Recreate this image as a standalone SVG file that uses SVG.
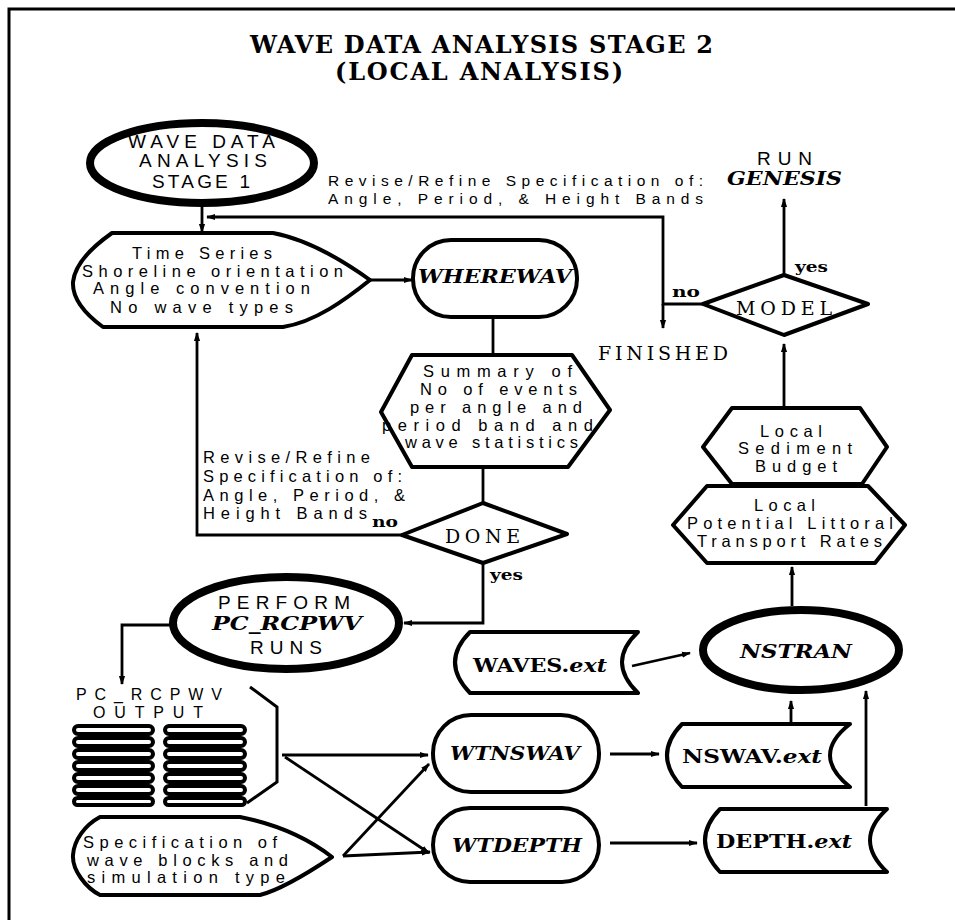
<svg xmlns="http://www.w3.org/2000/svg" width="955" height="920" viewBox="0 0 955 920">
<defs>
<marker id="ah" viewBox="0 0 10 10" refX="9" refY="5" markerWidth="9" markerHeight="9" markerUnits="userSpaceOnUse" orient="auto">
<path d="M0,1.5 L10,5 L0,8.5 Z" fill="#000"/>
</marker>
<style>
.bg{fill:#fff}
.frame{fill:none;stroke:#000;stroke-width:3}
.sh{fill:#fff;stroke:#000;stroke-width:4;stroke-linejoin:round}
.thick{fill:#fff;stroke:#000;stroke-width:8}
.cn{fill:none;stroke:#000;stroke-width:2.8}
.ar{marker-end:url(#ah)}
.title{font-family:"DejaVu Serif","Liberation Serif",serif;font-weight:bold;font-size:24px;fill:#000}
.body{font-family:"Liberation Sans","DejaVu Sans",sans-serif;font-size:16.5px;fill:#000}
.bodys{font-family:"Liberation Sans","DejaVu Sans",sans-serif;font-size:15.5px;fill:#000}
.caps{font-family:"Liberation Sans","DejaVu Sans",sans-serif;font-size:19px;fill:#000}
.capss{font-family:"Liberation Sans","DejaVu Sans",sans-serif;font-size:16px;fill:#000}
.capsr{font-family:"DejaVu Serif","Liberation Serif",serif;font-size:19px;fill:#000}
.prog{font-family:"DejaVu Serif","Liberation Serif",serif;font-weight:bold;font-style:italic;font-size:18px;fill:#000}
.file{font-family:"DejaVu Serif","Liberation Serif",serif;font-weight:bold;font-size:18px;fill:#000}
.yn{font-family:"DejaVu Serif","Liberation Serif",serif;font-weight:bold;font-size:14px;fill:#000}
</style>
</defs>
<rect class="bg" x="0" y="0" width="955" height="920"/>
<path class="frame" d="M9,920 V9 H955"/>

<g id="title">
<text class="title" x="250" y="53" textLength="463" lengthAdjust="spacing">WAVE DATA ANALYSIS STAGE 2</text>
<text class="title" x="335" y="80" textLength="288" lengthAdjust="spacing">(LOCAL ANALYSIS)</text>
</g>

<g id="connectors">
<path class="cn ar" d="M202,207 V232"/>
<path class="cn ar" d="M703,304 H663 V217 H207"/>
<path class="cn ar" d="M663,304 V328"/>
<path class="cn ar" d="M370,280 H412"/>
<path class="cn" d="M493,317 V355"/>
<path class="cn" d="M483,467 V503"/>
<path class="cn ar" d="M402,535 H197 V333"/>
<path class="cn ar" d="M483,563 V623 H404"/>
<path class="cn ar" d="M170,625 H122 V684"/>
<path class="cn ar" d="M282,755 H428"/>
<path class="cn ar" d="M285,757 L429,853"/>
<path class="cn ar" d="M343,856 L429,764"/>
<path class="cn ar" d="M343,856 L430,852"/>
<path class="cn ar" d="M610,754 H659"/>
<path class="cn ar" d="M610,843 H697"/>
<path class="cn ar" d="M632,666 L690,653"/>
<path class="cn ar" d="M791,724 V701"/>
<path class="cn ar" d="M866,806 V691"/>
<path class="cn ar" d="M792,606 V567"/>
<path class="cn ar" d="M784,408 V344"/>
<path class="cn ar" d="M784,275 V199"/>
</g>

<g id="labels">
<text class="bodys" x="328" y="186" textLength="375" lengthAdjust="spacing">Revise/Refine Specification of:</text>
<text class="bodys" x="328" y="204" textLength="375" lengthAdjust="spacing">Angle, Period, &amp; Height Bands</text>
<text class="body" x="203" y="463" textLength="167" lengthAdjust="spacing">Revise/Refine</text>
<text class="body" x="203" y="482" textLength="199" lengthAdjust="spacing">Specification of:</text>
<text class="body" x="203" y="501" textLength="202" lengthAdjust="spacing">Angle, Period, &amp;</text>
<text class="body" x="203" y="519" textLength="164" lengthAdjust="spacing">Height Bands</text>
<text class="yn" x="372" y="527" textLength="26" lengthAdjust="spacingAndGlyphs">no</text>
<text class="yn" x="490" y="580" textLength="33" lengthAdjust="spacingAndGlyphs">yes</text>
<text class="yn" x="672" y="297" textLength="28" lengthAdjust="spacingAndGlyphs">no</text>
<text class="yn" x="795" y="272" textLength="33" lengthAdjust="spacingAndGlyphs">yes</text>
</g>

<g id="stage1">
<ellipse class="thick" cx="202" cy="163" rx="112" ry="40"/>
<text class="caps" x="128" y="148" textLength="147" lengthAdjust="spacing">WAVE DATA</text>
<text class="caps" x="139" y="167" textLength="128" lengthAdjust="spacing">ANALYSIS</text>
<text class="caps" x="152" y="188" textLength="98" lengthAdjust="spacing">STAGE 1</text>
</g>

<g id="timeseries">
<path class="sh" d="M112,233 H273 C310,240 345,262 370,280 C345,300 315,322 283,327 H103 C88,316 72,300 73,282 C75,262 95,245 112,233 Z"/>
<text class="body" x="132" y="259" textLength="140" lengthAdjust="spacing">Time Series</text>
<text class="body" x="82" y="277" textLength="261" lengthAdjust="spacing">Shoreline orientation</text>
<text class="body" x="93" y="294" textLength="217" lengthAdjust="spacing">Angle convention</text>
<text class="body" x="110" y="313" textLength="183" lengthAdjust="spacing">No  wave types</text>
</g>

<g id="wherewav">
<rect class="sh" x="413" y="240" width="164" height="77" rx="38"/>
<text class="prog" x="418" y="283" textLength="154" lengthAdjust="spacingAndGlyphs">WHEREWAV</text>
</g>

<g id="summary">
<polygon class="sh" points="412,355 572,355 610,410 568,467 412,467 381,412"/>
<text class="body" x="423" y="377" textLength="149" lengthAdjust="spacing">Summary of</text>
<text class="body" x="420" y="395" textLength="157" lengthAdjust="spacing">No  of events</text>
<text class="body" x="410" y="413" textLength="172" lengthAdjust="spacing">per angle and</text>
<text class="body" x="382" y="431" textLength="211" lengthAdjust="spacing">period band and</text>
<text class="body" x="405" y="448" textLength="173" lengthAdjust="spacing">wave statistics</text>
</g>

<g id="done">
<polygon class="sh" points="483,503 567,534 483,563 402,535"/>
<text class="capsr" x="445" y="543" textLength="75" lengthAdjust="spacing">DONE</text>
</g>

<g id="perform">
<ellipse class="thick" cx="286" cy="623" rx="113" ry="46"/>
<text class="caps" x="218" y="609" textLength="132" lengthAdjust="spacing">PERFORM</text>
<text class="prog" x="212" y="630" textLength="150" lengthAdjust="spacingAndGlyphs">PC_RCPWV</text>
<text class="caps" x="250" y="654" textLength="72" lengthAdjust="spacing">RUNS</text>
</g>

<g id="output">
<text class="capss" x="76" y="700" textLength="146" lengthAdjust="spacing">PC_RCPWV</text>
<text class="capss" x="93" y="718" textLength="110" lengthAdjust="spacing">OUTPUT</text>
<g fill="none" stroke="#000" stroke-width="4">
<rect x="74" y="726" width="79" height="8" rx="4"/>
<rect x="74" y="738" width="79" height="8" rx="4"/>
<rect x="74" y="750" width="79" height="8" rx="4"/>
<rect x="74" y="762" width="79" height="8" rx="4"/>
<rect x="74" y="774" width="79" height="8" rx="4"/>
<rect x="74" y="786" width="79" height="8" rx="4"/>
<rect x="74" y="798" width="79" height="7" rx="3.5"/>
<rect x="165" y="726" width="80" height="8" rx="4"/>
<rect x="165" y="738" width="80" height="8" rx="4"/>
<rect x="165" y="750" width="80" height="8" rx="4"/>
<rect x="165" y="762" width="80" height="8" rx="4"/>
<rect x="165" y="774" width="80" height="8" rx="4"/>
<rect x="165" y="786" width="80" height="8" rx="4"/>
<rect x="165" y="798" width="80" height="7" rx="3.5"/>
</g>
<path fill="none" stroke="#000" stroke-width="3" d="M250,687 L277,707 V782 L247,803"/>
</g>

<g id="spec">
<path class="sh" d="M100,817 H240 C280,825 310,840 332,857 C305,875 280,890 260,895 H100 C86,888 72,870 73,855 C74,840 85,825 100,817 Z"/>
<text class="body" x="83" y="848" textLength="194" lengthAdjust="spacing">Specification of</text>
<text class="body" x="87" y="866" textLength="201" lengthAdjust="spacing">wave blocks and</text>
<text class="body" x="87" y="883" textLength="198" lengthAdjust="spacing">simulation type</text>
</g>

<g id="wtnswav">
<rect class="sh" x="433" y="715" width="166" height="77" rx="38"/>
<text class="prog" x="450" y="760" textLength="130" lengthAdjust="spacingAndGlyphs">WTNSWAV</text>
</g>

<g id="wtdepth">
<rect class="sh" x="433" y="808" width="166" height="74" rx="37"/>
<text class="prog" x="452" y="852" textLength="130" lengthAdjust="spacingAndGlyphs">WTDEPTH</text>
</g>

<g id="waves">
<path class="sh" d="M470,632 H638 Q606,662 638,693 H470 Q440,662 470,632 Z"/>
<text class="file" x="473" y="672" textLength="134" lengthAdjust="spacingAndGlyphs">WAVES.<tspan font-style="italic">ext</tspan></text>
</g>

<g id="nswav">
<path class="sh" d="M682,724 H850 Q810,755 850,787 H682 Q652,755 682,724 Z"/>
<text class="file" x="682" y="763" textLength="140" lengthAdjust="spacingAndGlyphs">NSWAV.<tspan font-style="italic">ext</tspan></text>
</g>

<g id="depth">
<path class="sh" d="M720,809 H887 Q853,840 887,872 H720 Q690,840 720,809 Z"/>
<text class="file" x="716" y="848" textLength="136" lengthAdjust="spacingAndGlyphs">DEPTH.<tspan font-style="italic">ext</tspan></text>
</g>

<g id="nstran">
<ellipse class="thick" cx="801" cy="650" rx="98" ry="40" stroke-width="7"/>
<text class="prog" x="740" y="658" textLength="112" lengthAdjust="spacingAndGlyphs">NSTRAN</text>
</g>

<g id="littoral">
<polygon class="sh" points="707,486 868,486 905,525 875,563 707,563 673,525"/>
<text class="body" x="754" y="511" textLength="61" lengthAdjust="spacing">Local</text>
<text class="body" x="687" y="529" textLength="206" lengthAdjust="spacing">Potential Littoral</text>
<text class="body" x="697" y="547" textLength="185" lengthAdjust="spacing">Transport Rates</text>
</g>

<g id="sediment">
<polygon class="sh" points="732,408 860,408 887,447 862,484 732,484 703,447"/>
<text class="body" x="760" y="437" textLength="62" lengthAdjust="spacing">Local</text>
<text class="body" x="738" y="454" textLength="114" lengthAdjust="spacing">Sediment</text>
<text class="body" x="755" y="472" textLength="82" lengthAdjust="spacing">Budget</text>
</g>

<g id="model">
<polygon class="sh" points="784,275 868,304 784,335 703,304"/>
<text class="capsr" x="736" y="315" textLength="96" lengthAdjust="spacing">MODEL</text>
</g>

<g id="finished">
<text class="capsr" x="598" y="360" textLength="130" lengthAdjust="spacing">FINISHED</text>
</g>

<g id="genesis">
<text class="caps" x="757" y="165" textLength="55" lengthAdjust="spacing">RUN</text>
<text class="prog" x="727" y="185" textLength="115" lengthAdjust="spacingAndGlyphs">GENESIS</text>
</g>
</svg>
